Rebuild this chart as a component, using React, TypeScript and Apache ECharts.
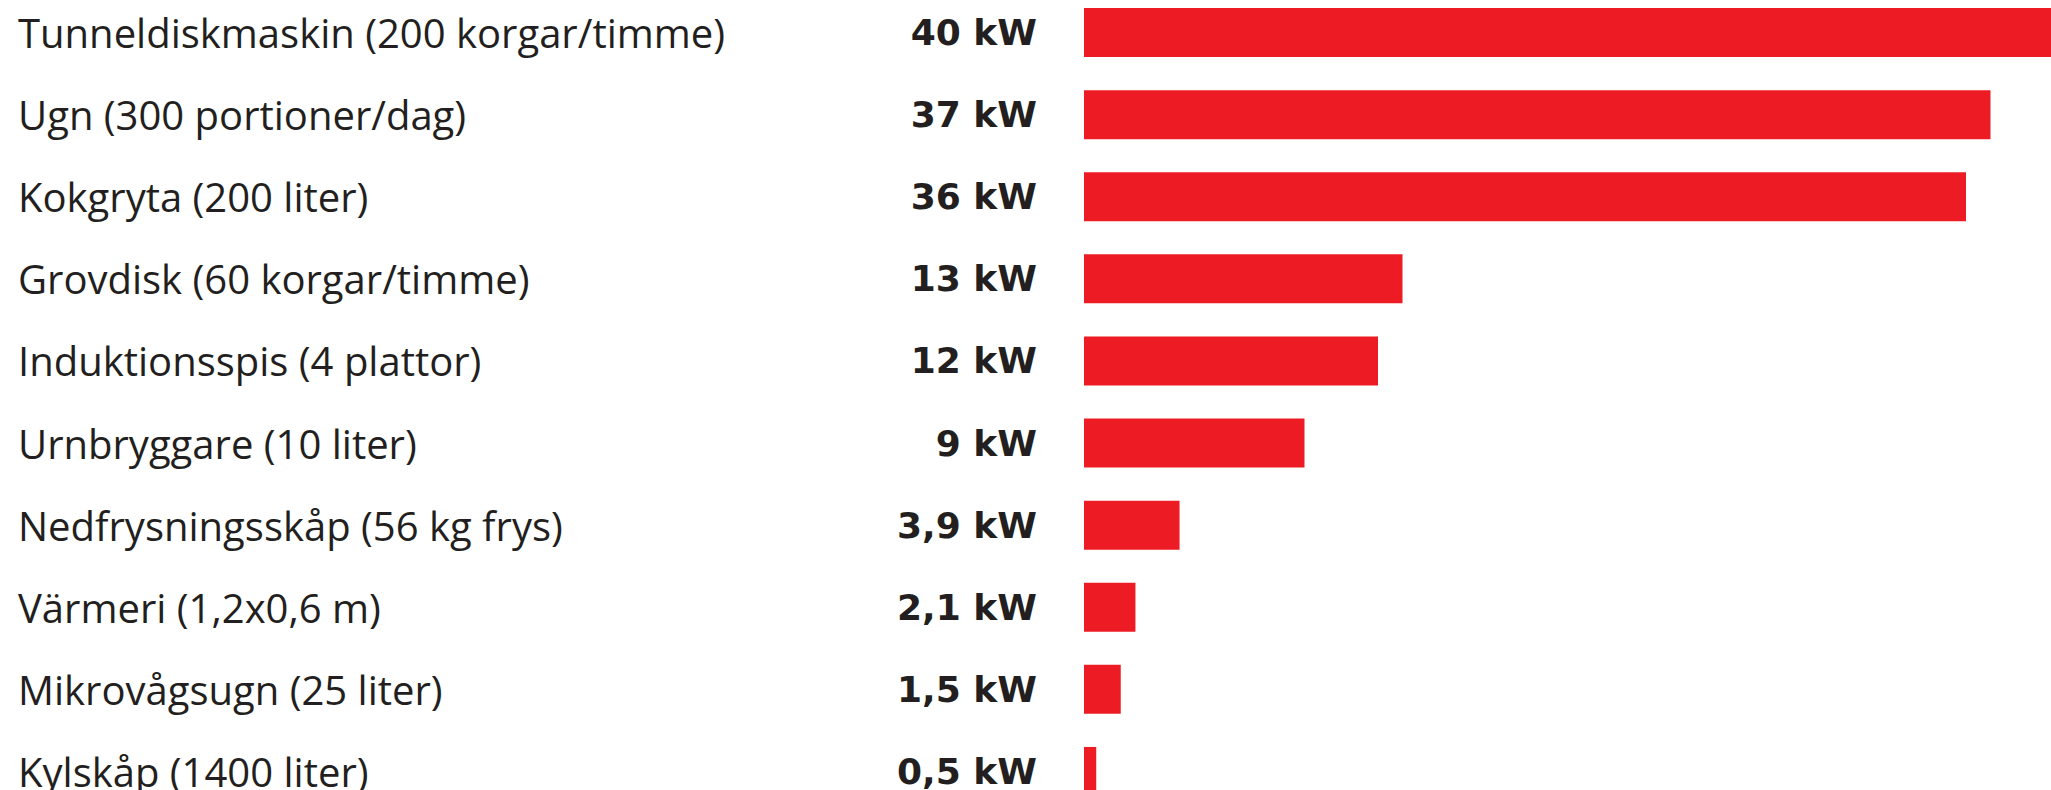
import React, { useEffect, useRef } from "react";
import * as echarts from "echarts";

const categories = [
  "Tunneldiskmaskin (200 korgar/timme)",
  "Ugn (300 portioner/dag)",
  "Kokgryta (200 liter)",
  "Grovdisk (60 korgar/timme)",
  "Induktionsspis (4 plattor)",
  "Urnbryggare (10 liter)",
  "Nedfrysningsskåp (56 kg frys)",
  "Värmeri (1,2x0,6 m)",
  "Mikrovågsugn (25 liter)",
  "Kylskåp (1400 liter)",
];
const values = [40, 37, 36, 13, 12, 9, 3.9, 2.1, 1.5, 0.5];
const unit = "kW";

export default function App() {
  const ref = useRef<HTMLDivElement>(null);
  useEffect(() => {
    document.body.style.margin = "0";
    const chart = echarts.init(ref.current!, null, { renderer: "svg" });
    chart.setOption({
      animation: false,
      backgroundColor: "#ffffff",
      grid: {
        left: 1084,
        top: -8.5,
        width: 980,
        height: 821,
        outerBoundsMode: "none",
        containLabel: false,
      },
      xAxis: {
        type: "value",
        min: 0,
        max: 40,
        show: false,
      },
      yAxis: {
        type: "category",
        data: categories,
        inverse: true,
        axisLine: { show: false },
        axisTick: { show: false },
        splitLine: { show: false },
        axisLabel: {
          align: "left",
          margin: 1066,
          fontFamily: "Open Sans",
          fontSize: 40,
          fontWeight: 400,
          color: "#231f20",
        },
      },
      series: [
        {
          type: "bar",
          data: values,
          barWidth: 49,
          clip: false,
          itemStyle: { color: "#ed1c24" },
          label: {
            show: true,
            position: "left",
            distance: 47,
            fontFamily: "DejaVu Sans",
            fontSize: 36,
            fontWeight: "bold",
            color: "#231f20",
            formatter: (p: any) => String(p.value).replace(".", ",") + " " + unit,
          },
        },
      ],
    });
    return () => chart.dispose();
  }, []);
  return <div ref={ref} style={{ width: 2051, height: 790 }} />;
}
